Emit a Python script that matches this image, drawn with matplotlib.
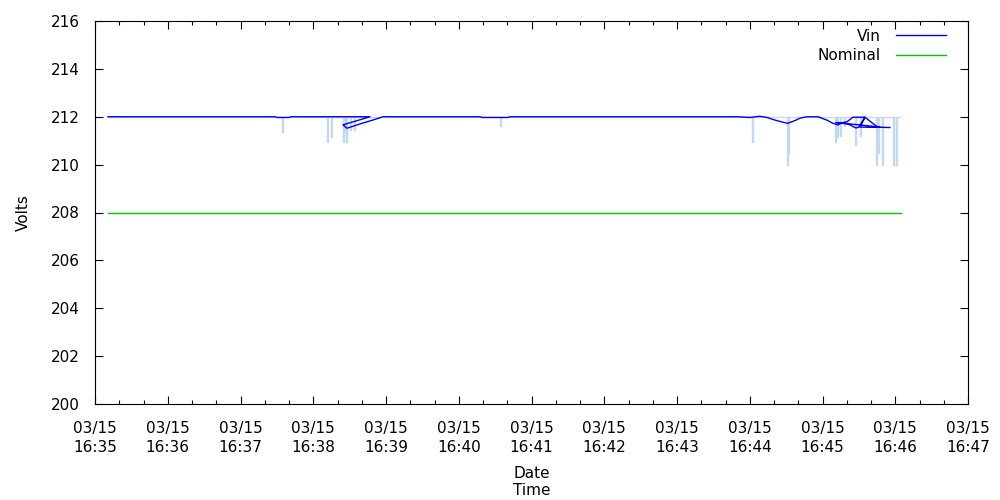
import datetime as dt
import matplotlib
matplotlib.use("Agg")
import matplotlib.pyplot as plt
import matplotlib.dates as mdates

# start of the window, everything below is seconds after this
t0 = dt.datetime(2015, 3, 15, 16, 35, 0)

# raw samples (light blue): flat at 212 V with short dips
raw_start, raw_end, raw_base = 10.7, 664.0, 212.0
dip_sec = [154, 191, 195, 204.5, 205.5, 207, 210, 214, 334, 541.5, 570.5, 571.5,
           610, 612, 614.5, 618, 627, 631, 644.5, 646, 649, 658, 661]
dip_volt = [211.35, 210.95, 211.15, 210.95, 211.4, 210.95, 211.45, 211.45, 211.6, 210.95, 209.98, 210.5,
            210.95, 211.15, 211.2, 211.6, 210.8, 211.2, 210.0, 210.5, 210.0, 210.0, 210.0]

# smoothed Vin (dark blue), the time goes back on itself in two places
vin_sec = [10.7, 148.4, 150.1, 160.0, 161.6, 226.8,
           204.5, 207.8, 218.6, 228.4, 237.5, 317.5, 319.2, 340.6, 342.3,
           530.3, 540.2, 548.4, 554.2, 560.8, 569.0, 571.5, 577.3, 581.4, 587.2, 596.3,
           603.6, 608.4, 612.8, 616.1, 620.2, 625.1, 635.0, 644.9, 647.4,
           611.1, 621.0, 627.6, 630.0, 635.0,
           630.9, 639.1, 647.4, 655.6]
vin_volt = [212.0, 212.0, 211.97, 211.97, 212.0, 212.0,
            211.66, 211.52, 211.7, 211.85, 212.0, 212.0, 211.97, 211.97, 212.0,
            212.0, 211.97, 212.02, 211.97, 211.86, 211.75, 211.73, 211.84, 211.94, 212.0, 212.0,
            211.86, 211.73, 211.66, 211.75, 211.79, 211.98, 211.98, 211.59, 211.57,
            211.76, 211.70, 211.53, 211.57, 211.98,
            211.57, 211.56, 211.56, 211.55]

nominal_sec = [10.7, 664.7]
nominal_volt = [208.0, 208.0]


def to_time(secs):
    return [t0 + dt.timedelta(seconds=s) for s in secs]


# build the step series for the raw samples
raw_s = [raw_start]
raw_v = [raw_base]
for s, v in zip(dip_sec, dip_volt):
    raw_s += [s, s + 0.8]
    raw_v += [v, raw_base]
raw_s.append(raw_end)
raw_v.append(raw_base)

fig = plt.figure(figsize=(10, 5), dpi=100)
ax = fig.add_axes([0.095, 0.192, 0.873, 0.766])

ax.plot(to_time(raw_s), raw_v, color="#c4d8ee", lw=1.0, drawstyle="steps-post")
ax.plot(to_time(vin_sec), vin_volt, color="#0000f0", lw=1.0, label="Vin")
ax.plot(to_time(nominal_sec), nominal_volt, color="#00c800", lw=1.0, label="Nominal")

ax.set_xlim(t0, t0 + dt.timedelta(minutes=12))
ax.set_ylim(200, 216)
ax.set_yticks(range(200, 217, 2))
ax.xaxis.set_major_locator(mdates.MinuteLocator())
ax.xaxis.set_minor_locator(mdates.SecondLocator(bysecond=[20, 40]))
ax.xaxis.set_major_formatter(mdates.DateFormatter("%m/%d\n%H:%M"))

ax.tick_params(which="both", direction="in", top=True, right=True, labelsize=11,
               colors="black", width=0.8)
ax.tick_params(which="major", length=6)
ax.tick_params(which="minor", length=3)
ax.tick_params(axis="x", which="major", pad=12)
ax.tick_params(axis="y", which="major", pad=11)
for sp in ax.spines.values():
    sp.set_linewidth(0.8)
for lab in ax.get_xticklabels():
    lab.set_linespacing(1.35)

ax.set_xlabel("Date\nTime", fontsize=11, labelpad=8, linespacing=1.2)
ax.set_ylabel("Volts", fontsize=11, labelpad=14)

ax.legend(loc="upper right", bbox_to_anchor=(0.9874, 1.0078), frameon=False,
          markerfirst=False, fontsize=11, handlelength=3.27, handletextpad=1.0,
          borderaxespad=0.3, labelspacing=0.3)

fig.savefig("out.png", dpi=100)
